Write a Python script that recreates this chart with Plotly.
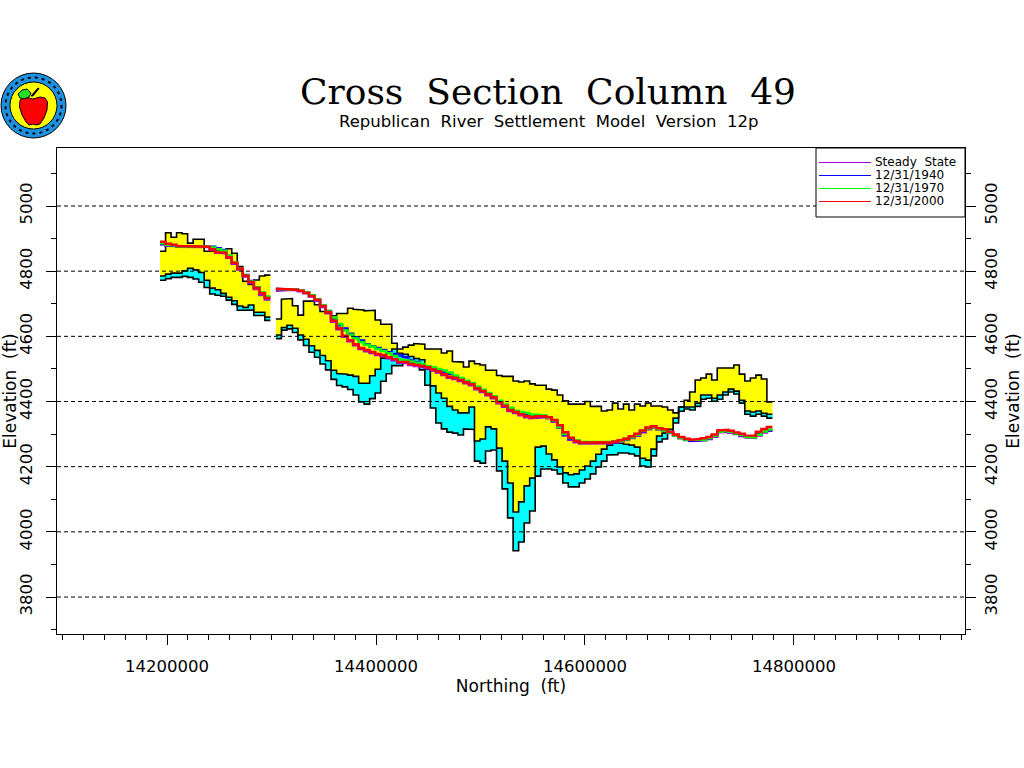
import plotly.graph_objects as go

# cell layout along the section (ft)
first_edge = 14193300
cell_size = 5280

# land surface, base of upper unit, bedrock, one value per model column (ft)
top = [4861, 4918, 4904, 4918, 4915, 4886, 4898, 4898, 4861, 4862, 4865, 4865, 4869, 4855, 4814, 4769, 4759, 4773, 4785, 4788, None,
       4653, 4714, 4716, 4694, 4665, 4708, 4708, 4697, 4676, 4679, 4663, 4670, 4670, 4686, 4683, 4681, 4678, 4680, 4650, 4637, 4637,
       4579, 4561, 4567, 4573, 4578, 4576, 4561, 4561, 4561, 4549, 4555, 4523, 4521, 4506, 4524, 4516, 4512, 4496, 4496, 4480, 4477,
       4477, 4463, 4460, 4463, 4454, 4450, 4450, 4438, 4435, 4420, 4402, 4392, 4392, 4392, 4400, 4385, 4385, 4371, 4374, 4395, 4377,
       4392, 4374, 4392, 4386, 4395, 4386, 4386, 4383, 4374, 4365, 4383, 4404, 4429, 4466, 4472, 4484, 4466, 4503, 4503, 4503, 4512,
       4484, 4463, 4472, 4481, 4469, 4399]
mid = [4785, 4791, 4794, 4794, 4801, 4809, 4804, 4796, 4772, 4748, 4743, 4732, 4720, 4709, 4693, 4689, 4696, 4674, 4674, 4659, None,
       4604, 4627, 4634, 4625, 4604, 4591, 4571, 4557, 4541, 4525, 4496, 4486, 4484, 4481, 4477, 4456, 4456, 4479, 4499, 4533, 4533,
       4561, 4548, 4545, 4538, 4532, 4528, 4499, 4448, 4426, 4410, 4385, 4374, 4365, 4365, 4383, 4279, 4285, 4322, 4316, 4257, 4217,
       4150, 4061, 4092, 4141, 4165, 4260, 4263, 4239, 4221, 4199, 4181, 4175, 4178, 4190, 4202, 4217, 4238, 4254, 4266, 4272, 4272,
       4269, 4266, 4260, 4226, 4220, 4254, 4294, 4303, 4315, 4349, 4383, 4385, 4383, 4395, 4420, 4420, 4410, 4420, 4429, 4438, 4432,
       4404, 4371, 4368, 4371, 4364, 4361]
bedrock = [4772, 4777, 4781, 4781, 4784, 4781, 4776, 4766, 4750, 4730, 4726, 4723, 4711, 4698, 4680, 4680, 4681, 4664, 4664, 4649, None,
           4593, 4619, 4623, 4612, 4589, 4572, 4551, 4536, 4515, 4497, 4468, 4449, 4445, 4437, 4420, 4399, 4392, 4409, 4426, 4462, 4485,
           4510, 4510, 4518, 4518, 4510, 4497, 4450, 4380, 4334, 4316, 4306, 4303, 4297, 4316, 4314, 4217, 4211, 4248, 4251, 4187, 4132,
           4043, 3942, 3969, 4027, 4064, 4171, 4193, 4193, 4190, 4178, 4150, 4138, 4138, 4150, 4162, 4178, 4199, 4217, 4236, 4237, 4242,
           4242, 4239, 4233, 4202, 4199, 4233, 4276, 4285, 4303, 4334, 4370, 4377, 4374, 4385, 4407, 4410, 4401, 4407, 4420, 4429, 4423,
           4395, 4361, 4355, 4361, 4355, 4349]

# water levels (ft)
steady = [4882, 4878, 4877, 4875, 4874, 4874, 4874, 4874, 4874, 4866, 4857, 4855, 4841, 4823, 4805, 4784, 4764, 4745, 4727, 4713, None,
          4740, 4742, 4743, 4742, 4738, 4732, 4722, 4709, 4690, 4671, 4645, 4622, 4599, 4585, 4573, 4561, 4554, 4549, 4543, 4540, 4533,
          4527, 4519, 4518, 4512, 4509, 4506, 4502, 4495, 4489, 4481, 4473, 4469, 4463, 4456, 4450, 4438, 4429, 4419, 4410, 4395, 4384,
          4371, 4365, 4358, 4352, 4349, 4351, 4352, 4349, 4338, 4320, 4296, 4283, 4275, 4271, 4270, 4272, 4272, 4272, 4272, 4274, 4277,
          4282, 4288, 4295, 4306, 4315, 4320, 4314, 4311, 4303, 4295, 4287, 4282, 4279, 4280, 4281, 4285, 4292, 4305, 4307, 4304, 4300,
          4294, 4290, 4288, 4296, 4305, 4310]
head_1940 = [4884, 4880, 4878, 4876, 4875, 4875, 4875, 4875, 4876, 4875, 4870, 4865, 4847, 4827, 4809, 4788, 4770, 4750, 4733, 4720, None,
             4745, 4744, 4744, 4743, 4740, 4735, 4725, 4713, 4694, 4675, 4655, 4634, 4624, 4608, 4597, 4587, 4576, 4569, 4564, 4558, 4551,
             4546, 4541, 4536, 4526, 4521, 4512, 4507, 4501, 4495, 4489, 4485, 4476, 4470, 4462, 4455, 4444, 4434, 4424, 4414, 4400, 4389,
             4378, 4370, 4364, 4358, 4354, 4356, 4356, 4351, 4342, 4322, 4299, 4286, 4279, 4275, 4273, 4275, 4275, 4275, 4275, 4277, 4280,
             4285, 4291, 4298, 4309, 4318, 4322, 4317, 4313, 4305, 4297, 4289, 4284, 4280, 4281, 4283, 4288, 4296, 4308, 4311, 4308, 4302,
             4297, 4293, 4291, 4300, 4308, 4312]
head_1970 = [4886, 4881, 4879, 4876, 4875, 4875, 4875, 4875, 4876, 4873, 4867, 4863, 4847, 4827, 4809, 4787, 4768, 4750, 4734, 4722, None,
             4745, 4744, 4744, 4743, 4741, 4735, 4726, 4714, 4695, 4676, 4658, 4638, 4618, 4605, 4593, 4582, 4574, 4568, 4561, 4555, 4548,
             4540, 4530, 4527, 4523, 4519, 4515, 4508, 4505, 4500, 4495, 4489, 4480, 4472, 4464, 4457, 4446, 4436, 4426, 4416, 4402, 4391,
             4381, 4372, 4368, 4365, 4361, 4359, 4357, 4350, 4342, 4322, 4300, 4288, 4281, 4276, 4274, 4276, 4276, 4276, 4276, 4278, 4279,
             4284, 4290, 4298, 4310, 4318, 4322, 4316, 4311, 4305, 4296, 4288, 4283, 4281, 4282, 4282, 4288, 4295, 4307, 4310, 4307, 4302,
             4298, 4292, 4290, 4298, 4308, 4314]
head_2000 = [4890, 4884, 4881, 4877, 4875, 4875, 4875, 4875, 4875, 4867, 4858, 4857, 4843, 4826, 4808, 4786, 4767, 4748, 4732, 4718, None,
             4746, 4744, 4744, 4743, 4740, 4734, 4724, 4712, 4693, 4674, 4648, 4625, 4602, 4588, 4576, 4564, 4558, 4552, 4546, 4543, 4536,
             4530, 4522, 4521, 4515, 4512, 4509, 4505, 4498, 4492, 4484, 4476, 4472, 4466, 4459, 4453, 4441, 4432, 4422, 4413, 4398, 4387,
             4374, 4368, 4361, 4355, 4352, 4355, 4355, 4352, 4343, 4327, 4306, 4289, 4279, 4274, 4272, 4274, 4275, 4274, 4274, 4277, 4281,
             4286, 4293, 4301, 4311, 4320, 4324, 4318, 4315, 4307, 4299, 4291, 4286, 4283, 4285, 4287, 4291, 4299, 4311, 4313, 4310, 4305,
             4301, 4296, 4295, 4307, 4316, 4322]

series_names = ["Steady\u00a0\u00a0State", "12/31/1940", "12/31/1970", "12/31/2000"]
series_values = [steady, head_1940, head_1970, head_2000]
series_colors = ["#a000e0", "#0000ff", "#00ff00", "#ff0000"]

y_ticks = [3800, 4000, 4200, 4400, 4600, 4800, 5000]
x_ticks = [14200000, 14400000, 14600000, 14800000]

X_RANGE = [14094700, 14963700]
Y_RANGE = [3686.5, 5178]
# plot box in page pixels
BOX_L, BOX_R, BOX_T, BOX_B = 57, 965, 148, 634


def steps(values, start=0):
    # each column drawn as a flat run across its cell
    xs, ys = [], []
    for i, v in enumerate(values):
        left = first_edge + (start + i) * cell_size
        xs += [left, left + cell_size]
        ys += [v, v]
    return xs, ys


def px_x(p):
    return (p - BOX_L) / (BOX_R - BOX_L)


def px_y(p):
    return (BOX_B - p) / (BOX_B - BOX_T)


def circle(cx, cy, r, fill, line="black", dash="solid", width=1):
    return dict(type="circle", xref="paper", yref="paper", x0=px_x(cx - r), x1=px_x(cx + r),
                y0=px_y(cy + r), y1=px_y(cy - r), fillcolor=fill, line=dict(color=line, width=width, dash=dash))


def blob(points, fill):
    path = "M " + " L ".join(f"{px_x(a):.4f} {px_y(b):.4f}" for a, b in points) + " Z"
    return dict(type="path", xref="paper", yref="paper", path=path, fillcolor=fill,
                line=dict(color="black", width=1))


fig = go.Figure()

# yellow and cyan bands, the two blocks either side of the inactive column
gap = top.index(None)
for a, b in [(0, gap), (gap + 1, len(top))]:
    for values, fill in [(bedrock, None), (mid, "#00ffff"), (top, "#ffff00")]:
        xs, ys = steps(values[a:b], a)
        fig.add_trace(go.Scatter(x=xs, y=ys, mode="lines", showlegend=False, hoverinfo="skip",
                                 line=dict(color="black", width=1.6),
                                 fill="tonexty" if fill else None, fillcolor=fill))

for name, values, color in zip(series_names, series_values, series_colors):
    xs, ys = steps(values)
    fig.add_trace(go.Scatter(x=xs, y=ys, mode="lines", name=name, showlegend=False, yaxis="y2",
                             line=dict(color=color, width=2.5)))

shapes = []
for t in y_ticks:
    shapes.append(dict(type="line", xref="paper", yref="y", x0=0, x1=1, y0=t, y1=t, layer="above",
                       line=dict(color="black", width=1, dash="4px,3px")))

# legend box
shapes.append(dict(type="rect", xref="paper", yref="paper", x0=px_x(816), x1=1, y0=px_y(217), y1=1,
                   fillcolor="white", line=dict(color="black", width=1), layer="above"))
annotations = []
for i, (name, color) in enumerate(zip(series_names, series_colors)):
    row = 162 + i * 13
    shapes.append(dict(type="line", xref="paper", yref="paper", x0=px_x(819), x1=px_x(871),
                       y0=px_y(row + 0.5), y1=px_y(row + 0.5), layer="above", line=dict(color=color, width=1)))
    annotations.append(dict(text=name, xref="paper", yref="paper", x=px_x(873), y=px_y(row), xanchor="left",
                            yanchor="middle", showarrow=False, font=dict(family="DejaVu Sans", size=12, color="black")))

# seal in the corner
shapes += [
    circle(33.5, 105.5, 32.5, "#1e90e0"),
    circle(33.5, 105.5, 28, "rgba(0,0,0,0)", dash="3px,4px", width=2),
    circle(33.5, 105.5, 23.5, "#ffff00"),
    blob([(20, 100), (24, 97), (29, 98), (33, 99), (40, 97), (45, 98), (47.5, 102), (47, 110), (44, 118),
          (40, 124), (36, 125), (33, 124), (29, 125), (26, 122), (22, 115), (19.5, 107)], "#ff0000"),
    blob([(18, 94), (22, 90), (27, 89), (31, 93), (29, 97), (24, 99), (20, 98)], "#22dd22"),
    blob([(31, 96), (38, 88), (39, 88.5), (33, 96)], "black"),
]

annotations.append(dict(text="Republican\u00a0\u00a0River\u00a0\u00a0Settlement\u00a0\u00a0Model\u00a0\u00a0Version\u00a0\u00a012p",
                        xref="paper", yref="paper", x=px_x(548), y=px_y(122), xanchor="center", yanchor="middle",
                        showarrow=False, font=dict(family="DejaVu Sans", size=16.5, color="black")))

axis_common = dict(showgrid=False, zeroline=False, showline=True, linecolor="black", linewidth=1,
                   ticks="outside", ticklen=10, tickcolor="black", tickwidth=1,
                   tickfont=dict(family="DejaVu Sans", size=16.5, color="black"))
label_font = dict(family="DejaVu Sans", size=17, color="black")

fig.update_layout(
    width=1024, height=768,
    margin=dict(l=BOX_L, r=1024 - BOX_R, t=BOX_T, b=768 - BOX_B, autoexpand=False),
    paper_bgcolor="white", plot_bgcolor="white",
    showlegend=False,
    title=dict(text="Cross\u00a0\u00a0Section\u00a0\u00a0Column\u00a0\u00a049", x=548 / 1024, y=1 - 91 / 768,
               xanchor="center", yanchor="middle", xref="container", yref="container",
               font=dict(family="DejaVu Serif", size=36, color="black")),
    xaxis=dict(range=X_RANGE, tickvals=x_ticks, ticktext=[str(v) for v in x_ticks], mirror=True, ticklabelstandoff=7,
               minor=dict(dtick=20000, ticks="outside", ticklen=5, tickcolor="black"),
               title=dict(text="Northing\u00a0\u00a0(ft)", standoff=1, font=label_font), **axis_common),
    yaxis=dict(range=Y_RANGE, tickvals=y_ticks, tickangle=-90, ticklabelstandoff=7,
               minor=dict(dtick=100, ticks="outside", ticklen=5, tickcolor="black"),
               title=dict(text="Elevation\u00a0\u00a0(ft)", standoff=1, font=label_font), **axis_common),
    yaxis2=dict(range=Y_RANGE, tickvals=y_ticks, tickangle=-90, overlaying="y", side="right", anchor="x", ticklabelstandoff=1,
                minor=dict(dtick=100, ticks="outside", ticklen=5, tickcolor="black"),
                title=dict(text="Elevation\u00a0\u00a0(ft)", standoff=7, font=label_font), **axis_common),
    shapes=shapes,
    annotations=annotations,
)

fig.write_html("out.html", config=dict(displayModeBar=False),
               post_script="document.body.style.margin='0';document.documentElement.style.overflow='hidden';")
